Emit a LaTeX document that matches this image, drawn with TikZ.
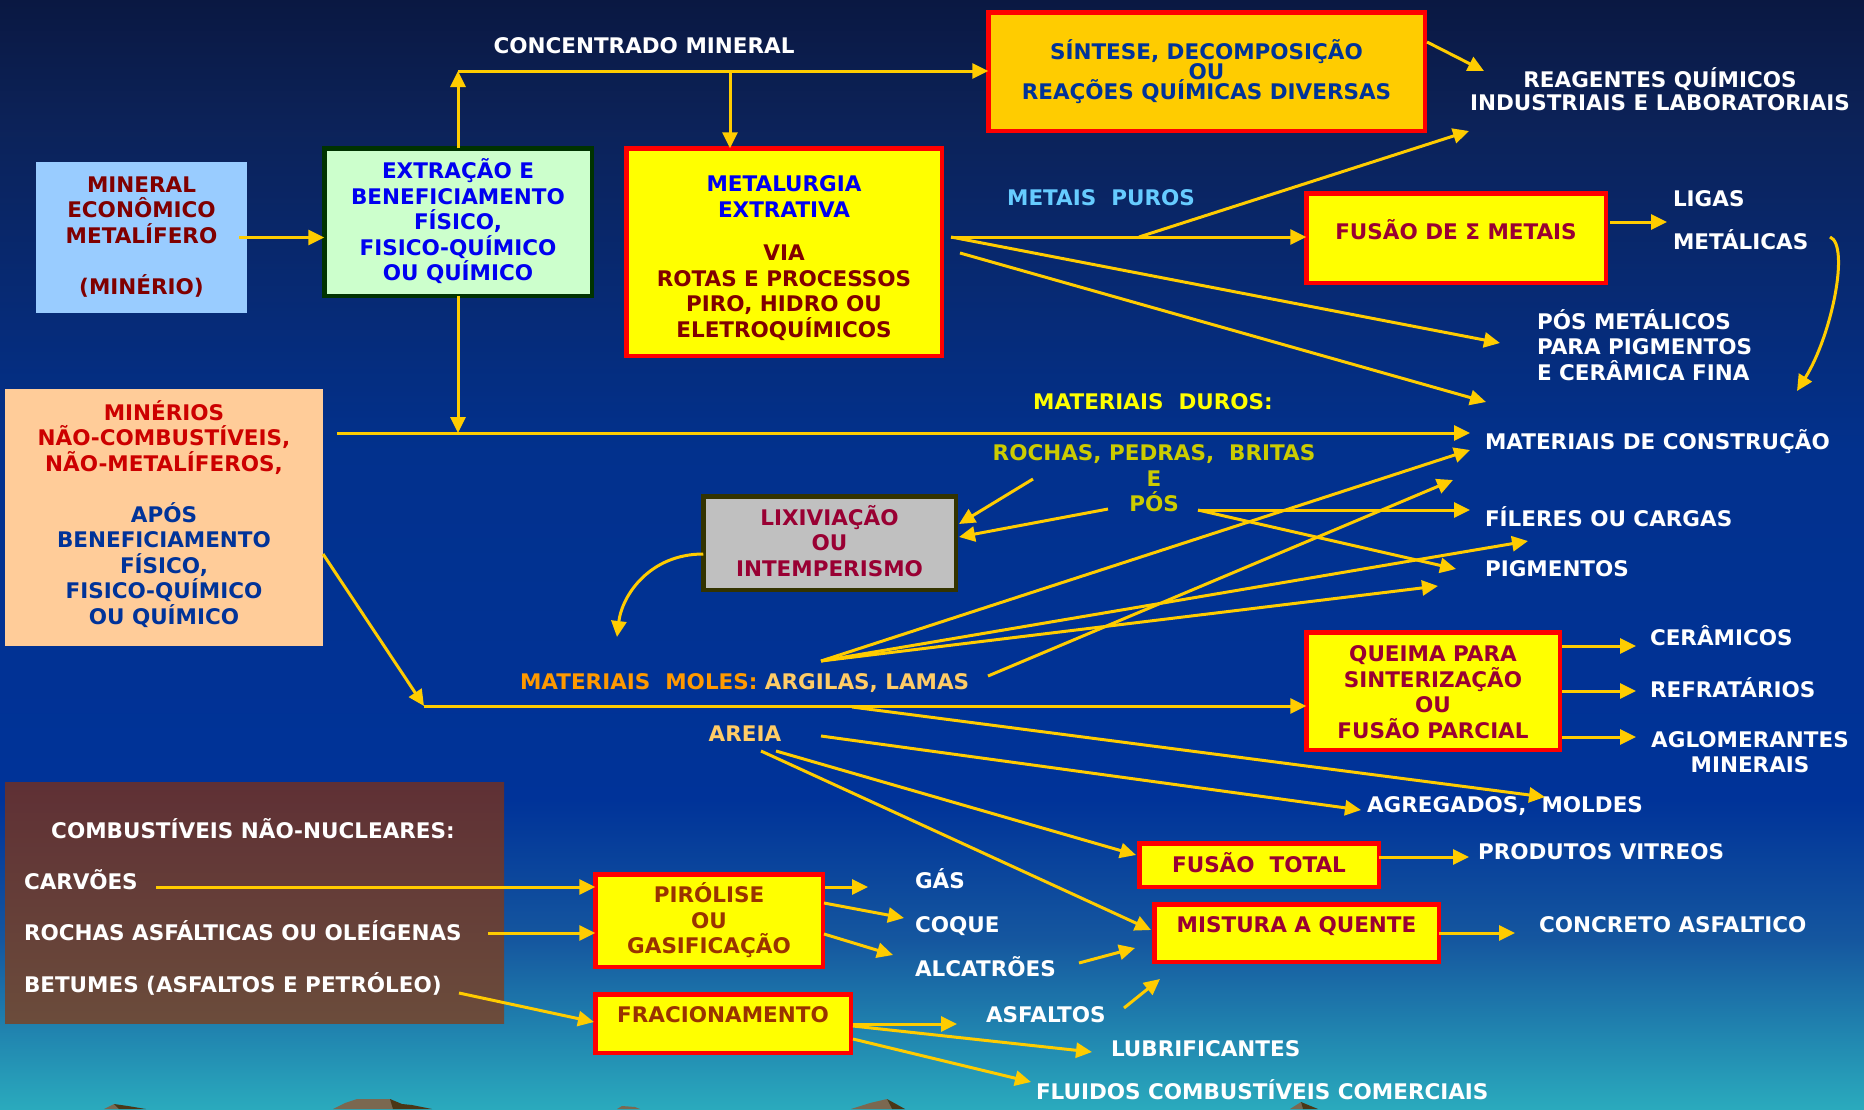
\documentclass[tikz,border=0pt]{standalone}
\usepackage{fontspec}
\setmainfont{DejaVu Sans}
\usetikzlibrary{arrows.meta}
\definecolor{bg0}{HTML}{0A1842}
\definecolor{bg1}{HTML}{0C2258}
\definecolor{bg2}{HTML}{02318D}
\definecolor{bg3}{HTML}{003399}
\definecolor{bg4}{HTML}{15579F}
\definecolor{bg5}{HTML}{2AAABD}
\definecolor{arrc}{HTML}{FFCC00}
\definecolor{byel}{HTML}{FFFF00}
\definecolor{bred}{HTML}{FF0000}
\definecolor{sintf}{HTML}{FFCC00}
\definecolor{lblue}{HTML}{99CCFF}
\definecolor{lgreen}{HTML}{CCFFCC}
\definecolor{dgreen}{HTML}{003300}
\definecolor{lgray}{HTML}{C0C0C0}
\definecolor{dolive}{HTML}{333300}
\definecolor{peach}{HTML}{FFCC99}
\definecolor{combt}{HTML}{5F3035}
\definecolor{combb}{HTML}{6B4C3B}
\definecolor{tmaroon}{HTML}{800000}
\definecolor{tcrim}{HTML}{990033}
\definecolor{tbrown}{HTML}{993300}
\definecolor{tblue}{HTML}{0000F0}
\definecolor{tnavy}{HTML}{003399}
\definecolor{tred}{HTML}{CC0000}
\definecolor{tsky}{HTML}{66CCFF}
\definecolor{tyel}{HTML}{FFFF00}
\definecolor{tolive}{HTML}{CCCC00}
\definecolor{torange}{HTML}{FF9900}
\definecolor{tpeach}{HTML}{FFCC66}
\definecolor{mlight}{HTML}{7B6850}
\definecolor{mdark}{HTML}{4B3716}
\newcommand\tf{\fontsize{21.5pt}{25.5pt}\selectfont\bfseries\lineskiplimit=-100pt\lineskip=0pt}
\newcommand\st{\rule[-4.3pt]{0pt}{20pt}}
\newcommand\stx[1]{\rule[-#1]{0pt}{20pt}}
\newcommand\sth[1]{\rule[-4.3pt]{0pt}{#1}}
\tikzset{
  txt/.style={font=\tf, inner sep=0pt, outer sep=0pt},
  lab/.style={txt, execute at begin node=\st, execute at end node=\st},
  ybox/.style={txt, draw=bred, line width=4.5pt, fill=byel, align=center},
  arr/.style={draw=arrc, line width=3pt, -{Triangle[length=16pt,width=15pt]}},
  ln/.style={draw=arrc, line width=3pt},
}
\begin{document}
\begin{tikzpicture}[x=1pt,y=-1pt]
\useasboundingbox (0,0) rectangle (1864,1109);
% background
\shade[top color=bg0,bottom color=bg1] (0,0) rectangle (1864,121);
\shade[top color=bg1,bottom color=bg2] (0,120) rectangle (1864,451);
\shade[top color=bg2,bottom color=bg3] (0,450) rectangle (1864,801);
\shade[top color=bg3,bottom color=bg4] (0,800) rectangle (1864,941);
\shade[top color=bg4,bottom color=bg5] (0,940) rectangle (1864,1109);
% mountains
\fill[mlight] (104,1109) -- (114,1104) -- (119,1109) -- cycle;
\fill[mdark] (114,1104) -- (128,1106) -- (146,1109) -- (119,1109) -- cycle;
\fill[mlight] (333,1109) -- (345,1103) -- (357,1099) -- (391,1099) -- (393,1109) -- cycle;
\fill[mdark] (390,1099) -- (402,1104) -- (412,1105) -- (432,1109) -- (393,1109) -- cycle;
\fill[mlight] (617,1109) -- (622,1106) -- (635,1107) -- (640,1109) -- cycle;
\fill[mlight] (851,1109) -- (870,1103) -- (887,1099) -- (892,1109) -- cycle;
\fill[mdark] (887,1099) -- (905,1109) -- (892,1109) -- cycle;
\fill[mlight] (1290,1109) -- (1301,1102) -- (1303,1109) -- cycle;
\fill[mdark] (1301,1102) -- (1318,1109) -- (1303,1109) -- cycle;

% boxes
\node[txt, fill=lblue, minimum width=211pt, minimum height=151pt, text=tmaroon, align=center] (mineral) at (141.5,237.5)
  {\st MINERAL\\ECONÔMICO\\METALÍFERO\\[25.5pt](MINÉRIO)\st};
\node[txt, draw=dgreen, line width=4.5pt, fill=lgreen, minimum width=267.5pt, minimum height=147.5pt, text=tblue, align=center] (extr) at (458,222)
  {\st EXTRAÇÃO E\\BENEFICIAMENTO\\FÍSICO,\\FISICO-QUÍMICO\\OU QUÍMICO\st};
\node[ybox, minimum width=315.5pt, minimum height=207.5pt, text=tmaroon] (metal) at (784,252)
  {\sth{34pt}\textcolor{tblue}{METALURGIA}\\\textcolor{tblue}{EXTRATIVA}\\[18pt]VIA\\ROTAS E PROCESSOS\\PIRO, HIDRO OU\\ELETROQUÍMICOS\st};
\node[ybox, fill=sintf, minimum width=436.5pt, minimum height=118.5pt, text=tnavy] (sint) at (1206.5,71.5)
  {\st SÍNTESE, DECOMPOSIÇÃO\\[-5.5pt]OU\\[-5.5pt]REAÇÕES QUÍMICAS DIVERSAS\st};
\node[ybox, minimum width=299.5pt, minimum height=89.5pt, text=tcrim] (fusao) at (1456,238)
  {\st FUSÃO DE Σ METAIS\stx{16.3pt}};
\node[txt, draw=dolive, line width=4.5pt, fill=lgray, minimum width=252.5pt, minimum height=93.5pt, text=tcrim, align=center] (lix) at (829.5,543)
  {\st LIXIVIAÇÃO\\OU\\INTEMPERISMO\st};
\node[txt, fill=peach, minimum width=318pt, minimum height=257pt, align=center] (minerios) at (164,517.5)
  {\st\textcolor{tred}{MINÉRIOS}\\\textcolor{tred}{NÃO-COMBUSTÍVEIS,}\\\textcolor{tred}{NÃO-METALÍFEROS,}\\[25.5pt]\textcolor{tnavy}{APÓS}\\\textcolor{tnavy}{BENEFICIAMENTO}\\\textcolor{tnavy}{FÍSICO,}\\\textcolor{tnavy}{FISICO-QUÍMICO}\\\textcolor{tnavy}{OU QUÍMICO}\stx{10.3pt}};
\node[txt, top color=combt, bottom color=combb, minimum width=499pt, minimum height=241pt] (comb) at (254.5,902.5) {};
\node[ybox, minimum width=227.5pt, minimum height=92.5pt, text=tbrown] (piro) at (709,920.5)
  {\st PIRÓLISE\\OU\\GASIFICAÇÃO\st};
\node[ybox, minimum width=255.5pt, minimum height=58.5pt, text=tbrown] (frac) at (723,1023.5)
  {\st FRACIONAMENTO\stx{17.3pt}};
\node[ybox, minimum width=253.5pt, minimum height=117.5pt, text=tcrim] (queima) at (1433,691)
  {\sth{27pt}QUEIMA PARA\\SINTERIZAÇÃO\\OU\\FUSÃO PARCIAL\st};
\node[ybox, minimum width=239.5pt, minimum height=43.5pt, text=tcrim] (ftotal) at (1259,865)
  {\st FUSÃO\ \ TOTAL\st};
\node[ybox, minimum width=284.5pt, minimum height=57.5pt, text=tcrim] (mist) at (1296.5,933)
  {\st MISTURA A QUENTE\stx{16.3pt}};

% labels
\node[lab, text=white] (conc) at (644,48) {CONCENTRADO MINERAL};
\node[txt, text=white, align=center] (reag) at (1660,91.5) {\st REAGENTES QUÍMICOS\\[-2.5pt]INDUSTRIAIS E LABORATORIAIS\st};
\node[lab, text=tsky] (puros) at (1101,200) {METAIS\ \ PUROS};
\node[lab, text=white, anchor=west] (ligas) at (1673,201) {LIGAS};
\node[lab, text=white, anchor=west] (metalicas) at (1673,242) {METÁLICAS};
\node[txt, text=white, align=left, anchor=west] (pos) at (1537,347) {\st PÓS METÁLICOS\\PARA PIGMENTOS\\E CERÂMICA FINA\st};
\node[lab, text=tyel] (duros) at (1153,404) {MATERIAIS\ \ DUROS:};
\node[lab, text=white, anchor=west] (constr) at (1485,442) {MATERIAIS DE CONSTRUÇÃO};
\node[txt, text=tolive, align=center] (rochas) at (1154,480.5) {\st ROCHAS, PEDRAS,\ \ BRITAS\\E\\PÓS\st};
\node[lab, text=white, anchor=west] (fileres) at (1485,519) {FÍLERES OU CARGAS};
\node[lab, text=white, anchor=west] (pigm) at (1485,571) {PIGMENTOS};
\node[lab, text=white, anchor=west] (ceram) at (1650,638) {CERÂMICOS};
\node[lab, text=white, anchor=west] (refrat) at (1650,690) {REFRATÁRIOS};
\node[txt, text=white, align=center] (aglom) at (1750,754.5) {\st AGLOMERANTES\\[-0.5pt]MINERAIS\st};
\node[lab, text=white, anchor=west] (agreg) at (1367,807) {AGREGADOS,\ \ MOLDES};
\node[lab, text=white, anchor=west] (vitreos) at (1478,854) {PRODUTOS VITREOS};
\node[lab, text=white, anchor=west] (concr) at (1539,927) {CONCRETO ASFALTICO};
\node[lab, text=white, anchor=west] (gas) at (915,881) {GÁS};
\node[lab, text=white, anchor=west] (coque) at (915,927) {COQUE};
\node[lab, text=white, anchor=west] (alcat) at (915,969) {ALCATRÕES};
\node[lab, text=white, anchor=west] (asfal) at (986,1017) {ASFALTOS};
\node[lab, text=white, anchor=west] (lubr) at (1111,1051) {LUBRIFICANTES};
\node[lab, text=white, anchor=west] (fluid) at (1036,1092) {FLUIDOS COMBUSTÍVEIS COMERCIAIS};
\node[lab, anchor=west] (moles) at (520,684) {\textcolor{torange}{MATERIAIS\ \ MOLES:} \textcolor{tpeach}{ARGILAS, LAMAS}};
\node[lab, text=tpeach] (areia) at (745,736) {AREIA};
\node[lab, text=white] (combt) at (253,831) {COMBUSTÍVEIS NÃO-NUCLEARES:};
\node[lab, text=white, anchor=west] (carv) at (24,882) {CARVÕES};
\node[lab, text=white, anchor=west] (rasf) at (24,933) {ROCHAS ASFÁLTICAS OU OLEÍGENAS};
\node[lab, text=white, anchor=west] (betu) at (24,985) {BETUMES (ASFALTOS E PETRÓLEO)};

% connector coordinates
\coordinate (top) at (458,71);
\coordinate (tm) at (730,71);
\coordinate (hl) at (337,433);
\coordinate (hlend) at (1470,433);
\coordinate (s1) at (1427,42);
\coordinate (s2) at (1484,71);
\coordinate (m0) at (951,237);
\coordinate (mb) at (1139,237);
\coordinate (m1) at (960,253);
\coordinate (reagtip) at (1469,131);
\coordinate (postip) at (1500,343);
\coordinate (constip) at (1486,402);
\coordinate (lg1) at (1610,222);
\coordinate (lg2) at (1667,222);
\coordinate (mc1) at (1830,237);
\coordinate (mc2) at (1797,391);
\coordinate (r1) at (1033,479);
\coordinate (r1t) at (959,524);
\coordinate (r2) at (1108,509);
\coordinate (r2t) at (959,537);
\coordinate (p0) at (1198,510);
\coordinate (p1) at (1470,510);
\coordinate (p2) at (1456,569);
\coordinate (lxt) at (617,637);
\coordinate (ag) at (821,661);
\coordinate (ag1) at (1470,450);
\coordinate (ag2) at (1528,541);
\coordinate (ag3) at (1438,586);
\coordinate (lm) at (988,676);
\coordinate (lmt) at (1453,480);
\coordinate (mn) at (323,554);
\coordinate (ml) at (424,706);
\coordinate (hb) at (852,707);
\coordinate (moldt) at (1545,797);
\coordinate (ar1) at (821,736);
\coordinate (agrt) at (1361,810);
\coordinate (ar2) at (776,751);
\coordinate (ftt) at (1136,855);
\coordinate (ar3) at (761,751);
\coordinate (mqt) at (1151,930);
\coordinate (q1) at (1562,646);
\coordinate (q2) at (1562,691);
\coordinate (q3) at (1562,737);
\coordinate (c1) at (156,887);
\coordinate (c2) at (488,933);
\coordinate (c3) at (459,993);
\coordinate (c3t) at (594,1022);
\coordinate (g1) at (825,887);
\coordinate (g1t) at (868,887);
\coordinate (g2) at (824,903);
\coordinate (g2t) at (904,918);
\coordinate (g3) at (824,934);
\coordinate (g3t) at (893,955);
\coordinate (al1) at (1079,963);
\coordinate (al1t) at (1135,948);
\coordinate (as1) at (1124,1008);
\coordinate (as1t) at (1160,979);
\coordinate (f1) at (853,1024);
\coordinate (f1t) at (957,1024);
\coordinate (f2) at (853,1026);
\coordinate (f2t) at (1092,1052);
\coordinate (f3) at (853,1039);
\coordinate (f3t) at (1031,1082);

% connectors
\draw[arr] ([xshift=-8pt]mineral.east) -- (extr.west |- mineral.east);
\draw[arr] (extr.north) -- (extr.north |- top);
\draw[arr] (top) -- (sint.west |- top);
\draw[arr] (tm) -- (tm |- metal.north);
\draw[arr] (extr.south) -- (extr.south |- hl);
\draw[arr] (hl) -- (hlend);
\draw[arr] (s1) -- (s2);
\draw[arr] (m0) -- (fusao.west |- m0);
\draw[arr] (mb) -- (reagtip);
\draw[arr] (m0) -- (postip);
\draw[arr] (m1) -- (constip);
\draw[arr] (lg1) -- (lg2);
\draw[arr] (mc1) .. controls (1850,245) and (1832,335) .. (mc2);
\draw[arr] (r1) -- (r1t);
\draw[arr] (r2) -- (r2t);
\draw[arr] (p0) -- (p1);
\draw[arr] (p0) -- (p2);
\draw[arr] ([yshift=-11pt]lix.west) .. controls (650,554) and (622,595) .. (lxt);
\draw[arr] (ag) -- (ag1);
\draw[arr] (ag) -- (ag2);
\draw[arr] (ag) -- (ag3);
\draw[arr] (lm) -- (lmt);
\draw[arr] (mn) -- (ml);
\draw[arr] (ml) -- (queima.west |- ml);
\draw[arr] (hb) -- (moldt);
\draw[arr] (ar1) -- (agrt);
\draw[arr] (ar2) -- (ftt);
\draw[arr] (ar3) -- (mqt);
\draw[arr] (q1) -- ([xshift=-14pt]ceram.west |- q1);
\draw[arr] (q2) -- ([xshift=-14pt]refrat.west |- q2);
\draw[arr] (q3) -- ([xshift=-14pt]refrat.west |- q3);
\draw[arr] (ftotal.east |- 0,857) -- ([xshift=-9pt]vitreos.west |- 0,857);
\draw[arr] (mist.east) -- ([xshift=-24pt]concr.west |- mist.east);
\draw[arr] (c1) -- (piro.west |- c1);
\draw[arr] (c2) -- (piro.west |- c2);
\draw[arr] (c3) -- (c3t);
\draw[arr] (g1) -- (g1t);
\draw[arr] (g2) -- (g2t);
\draw[arr] (g3) -- (g3t);
\draw[arr] (al1) -- (al1t);
\draw[arr] (as1) -- (as1t);
\draw[arr] (f1) -- (f1t);
\draw[arr] (f2) -- (f2t);
\draw[arr] (f3) -- (f3t);
\end{tikzpicture}
\end{document}
